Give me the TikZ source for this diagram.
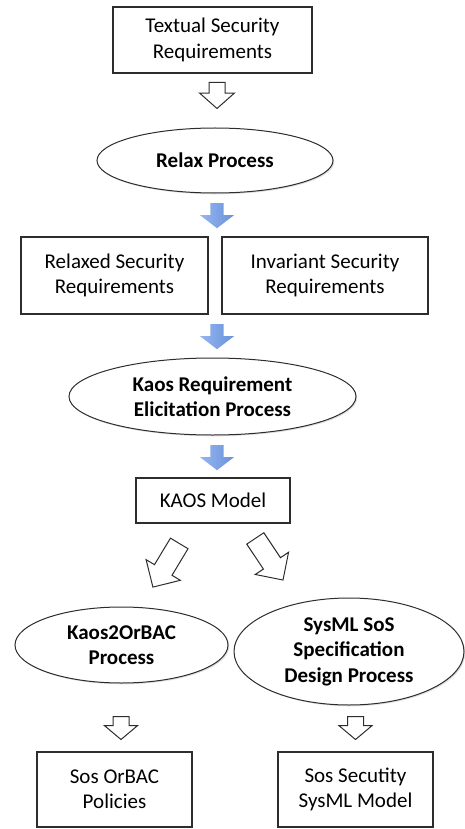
\documentclass[tikz,border=0pt]{standalone}
\usepackage{fontspec}
\setmainfont{Carlito}
\usetikzlibrary{shapes,shadows}
\definecolor{arrtop}{RGB}{150,182,238}
\definecolor{arrbot}{RGB}{104,145,220}
\definecolor{edge}{RGB}{45,45,45}

\begin{document}
\begin{tikzpicture}[x=1pt,y=-1pt,
    box/.style={draw=edge,line width=1.1pt,fill=white,inner sep=0pt,align=center,font=\fontsize{21}{25.5}\selectfont,drop shadow={shadow xshift=1.3pt,shadow yshift=-1.3pt,opacity=0.25}},
    proc/.style={ellipse,draw=edge,line width=1pt,fill=white,inner sep=0pt,align=center,font=\bfseries\fontsize{21}{25.5}\selectfont,drop shadow={shadow xshift=1.3pt,shadow yshift=-1.3pt,opacity=0.25}},
    warrow/.style={single arrow,draw=edge,line width=1pt,fill=white,inner xsep=0pt,single arrow head indent=0pt,anchor=tail},
    barrow/.style={single arrow,draw=none,left color=arrtop,right color=arrbot,inner xsep=0pt,inner ysep=6.5pt,single arrow head extend=10.5pt,single arrow head indent=0pt,single arrow tip angle=105,minimum height=25pt,anchor=tail,rotate=-90}]
    \useasboundingbox (0,0) rectangle (465,829);
    % requirements
    \node[box,minimum width=199pt,minimum height=66pt] (txt) at (212.5,40) {Textual Security\\Requirements};
    \node[proc,minimum width=236pt,minimum height=65pt] (relax) at (215,160.5) {Relax Process};
    \node[box,minimum width=187pt,minimum height=77pt] (relaxed) at (114.5,275.5) {Relaxed Security\\Requirements};
    \node[box,minimum width=206pt,minimum height=77pt] (invar) at (325,275.5) {Invariant Security\\Requirements};
    % kaos
    \node[proc,minimum width=287pt,minimum height=77pt] (kaosproc) at (212.5,396.5) {Kaos Requirement\\Elicitation Process};
    \node[box,minimum width=154pt,minimum height=45pt] (kaosmodel) at (213,500.5) {KAOS Model};
    % outputs
    \node[proc,minimum width=213pt,minimum height=76pt] (k2o) at (121.5,645) {Kaos2OrBAC\\Process};
    \node[proc,minimum width=230pt,minimum height=107pt] (sysproc) at (349,651.5) {SysML SoS\\Specification\\Design Process};
    \node[box,minimum width=155pt,minimum height=75pt] (orbacpol) at (114.5,789.5) {Sos OrBAC\\Policies};
    \node[box,minimum width=155pt,minimum height=75pt] (sysmodel) at (355.5,789.5) {Sos Secutity\\SysML Model};
    % arrows
    \node[warrow,inner ysep=7.5pt,single arrow head extend=9.5pt,single arrow tip angle=97,minimum height=26pt,rotate=-90] (wa1) at (217,82) {};
    \foreach \ay/\n in {203/1, 324/2, 445/3}
        \node[barrow] (ba\n) at (217,\ay) {};
    \node[warrow,inner ysep=9.75pt,single arrow head extend=9.75pt,single arrow tip angle=90,minimum height=51pt,rotate=238.9] (wa2) at (179.5,543) {};
    \node[warrow,inner ysep=9.75pt,single arrow head extend=9.75pt,single arrow tip angle=90,minimum height=50pt,rotate=-56.3] (wa3) at (255,538) {};
    \foreach \ax/\n in {121/4, 355.5/5}
        \node[warrow,inner ysep=7.5pt,single arrow head extend=8.5pt,single arrow tip angle=100,minimum height=23pt,rotate=-90] (wa\n) at (\ax,716) {};
\end{tikzpicture}
\end{document}
